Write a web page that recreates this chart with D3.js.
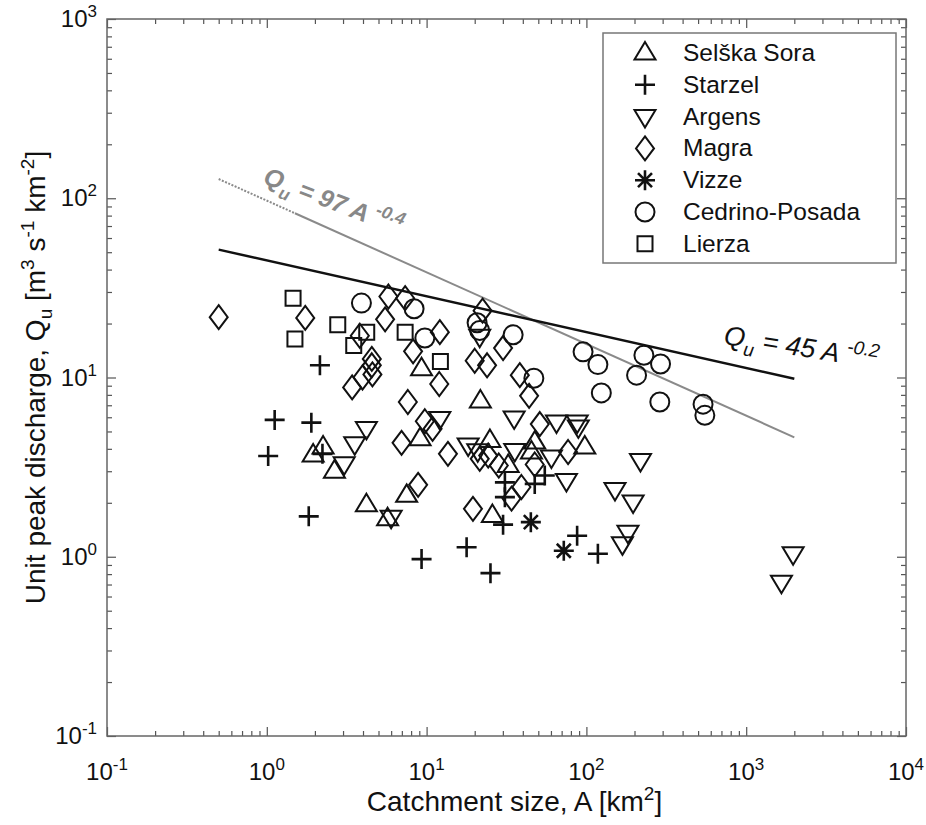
<!DOCTYPE html>
<html>
<meta charset="utf-8">
<head>
<title>Unit peak discharge vs catchment size</title>
<style>
  body { margin: 0; background: #fff; }
  text { font-family: "Liberation Sans", Arial, sans-serif; fill: #111; }
</style>
</head>
<body>
<div id="chart"></div>
<script src="https://d3js.org/d3.v7.min.js"></script>
<script>

// series names in legend order
var seriesNames = ["Selška Sora", "Starzel", "Argens", "Magra", "Vizze", "Cedrino-Posada", "Lierza"];

// [catchment size A (km2), unit peak discharge Qu (m3 s-1 km-2)]
var selskaSora = [[9.3,11.2],[21.7,7.4],[2.25,4.1],[1.95,3.7],[2.65,3.0],[4.2,1.95],[5.7,1.63],[7.5,2.2],
  [9.1,4.55],[24.9,4.45],[32.4,3.23],[47.5,4.36],[45.3,3.84],[97.7,4.1],[25.8,1.7]];
var starzel = [[2.15,11.7],[1.12,5.8],[1.9,5.6],[1.02,3.65],[2.23,3.75],[1.83,1.68],[9.3,0.97],[17.8,1.13],
  [25.1,0.81],[30.1,1.51],[30.9,2.6],[30.9,2.15],[47.5,2.55],[54.9,2.84],[87.5,1.31],[118,1.04]];
var argens = [[4.2,5.2],[3.55,4.27],[3.05,3.3],[6.0,1.66],[12.1,5.9],[21.5,17],[35.3,5.95],[65,5.65],
  [87.6,5.65],[89,5.3],[18.2,4.2],[20.9,3.9],[35.6,3.92],[60.4,3.6],[75,2.66],[218,3.44],[151,2.37],
  [196,2.02],[182,1.37],[168,1.18],[1966,1.04],[1662,0.72]];
var magra = [[0.5,21.7],[1.74,21.5],[5.77,28.3],[7.34,27.7],[5.5,21.1],[3.82,17.1],[8.23,14.0],[4.54,12.7],
  [4.54,11.7],[4.58,10.4],[3.97,10.0],[3.42,8.8],[7.63,7.3],[12.1,17.9],[12.0,9.2],[22.4,23.6],[30.1,14.6],
  [20.0,12.4],[23.9,11.7],[38.3,10.3],[43.8,7.9],[51.1,5.5],[10.9,5.17],[9.75,5.7],[6.97,4.32],[8.85,2.52],
  [13.6,3.75],[21.5,3.52],[24.3,3.67],[28.3,3.23],[47.5,3.27],[76.8,3.84],[39.2,2.45],[34.0,2.11],[19.5,1.85]];
var vizze = [[44.9,1.56],[72.2,1.08]];
var cedrinoPosada = [[3.91,26.0],[8.35,24.2],[9.75,16.6],[20.7,20.2],[21.5,18.3],[34.8,17.3],[46.9,9.9],
  [95.3,13.9],[118,11.8],[124,8.2],[206,10.3],[229,13.3],[291,11.9],[288,7.3],[537,7.1],[551,6.15]];
var lierza = [[1.46,27.7],[1.5,16.4],[2.78,19.7],[4.22,17.9],[3.5,15.1],[7.34,17.9],[12.2,12.3]];

var seriesData = [selskaSora, starzel, argens, magra, vizze, cedrinoPosada, lierza];
var seriesShapes = ["triUp", "plus", "triDown", "diamond", "star", "circle", "square"];

// envelope curves Qu = c * A^b
var curveCoef = [45, 97];
var curveExp = [-0.2, -0.4];
var curveRange = [0.5, 2000];
var dottedEnd = 1.5;

var xDecades = [-1, 0, 1, 2, 3, 4];
var yDecades = [-1, 0, 1, 2, 3];

var width = 926, height = 825;
var margin = {top: 19, right: 20, bottom: 89, left: 107};

var svg = d3.select("#chart").append("svg")
  .attr("width", width)
  .attr("height", height);

var x = d3.scaleLog().domain([0.1, 1e4]).range([margin.left, width - margin.right]);
var y = d3.scaleLog().domain([0.1, 1e3]).range([height - margin.bottom, margin.top]);

var x0 = x.range()[0], x1 = x.range()[1], y0 = y.range()[0], y1 = y.range()[1];

// minor + major tick values
function tickVals(scale) {
  var major = [], minor = [];
  var d = scale.domain();
  for (var e = Math.log10(d[0]); e <= Math.log10(d[1]); e++) {
    major.push(Math.pow(10, e));
    if (e < Math.log10(d[1]))
      for (var k = 2; k < 10; k++) minor.push(k * Math.pow(10, e));
  }
  return {major: major, minor: minor};
}
var xt = tickVals(x), yt = tickVals(y);

function drawAxis(axisFn, scale, vals, size, tr) {
  var g = svg.append("g").attr("transform", tr)
    .call(axisFn(scale).tickValues(vals).tickSize(size).tickFormat(""));
  g.select(".domain").remove();
  g.selectAll(".tick line").attr("stroke", "#555").attr("stroke-width", 1.2);
}
drawAxis(d3.axisBottom, x, xt.major, -9, "translate(0," + y0 + ")");
drawAxis(d3.axisBottom, x, xt.minor, -5, "translate(0," + y0 + ")");
drawAxis(d3.axisTop, x, xt.major, -9, "translate(0," + y1 + ")");
drawAxis(d3.axisTop, x, xt.minor, -5, "translate(0," + y1 + ")");
drawAxis(d3.axisLeft, y, yt.major, -9, "translate(" + x0 + ",0)");
drawAxis(d3.axisLeft, y, yt.minor, -5, "translate(" + x0 + ",0)");
drawAxis(d3.axisRight, y, yt.major, -9, "translate(" + x1 + ",0)");
drawAxis(d3.axisRight, y, yt.minor, -5, "translate(" + x1 + ",0)");

svg.append("rect")
  .attr("x", x0).attr("y", y1)
  .attr("width", x1 - x0).attr("height", y0 - y1)
  .attr("fill", "none").attr("stroke", "#666").attr("stroke-width", 1.5);

// tick labels 10^n
xDecades.forEach(function(e) {
  var t = svg.append("text")
    .attr("x", x(Math.pow(10, e))).attr("y", y0 + 44)
    .attr("text-anchor", "middle").style("font-size", "24px");
  t.append("tspan").text("10");
  t.append("tspan").attr("dy", -10).style("font-size", "17px").text(e);
});
yDecades.forEach(function(e) {
  var t = svg.append("text")
    .attr("x", x0 - 10).attr("y", y(Math.pow(10, e)) + 8)
    .attr("text-anchor", "end").style("font-size", "24px");
  t.append("tspan").text("10");
  t.append("tspan").attr("dy", -10).style("font-size", "17px").text(e);
});

// axis titles
var xl = svg.append("text")
  .attr("x", (x0 + x1) / 2 + 8).attr("y", 811)
  .attr("text-anchor", "middle").style("font-size", "28px");
xl.append("tspan").text("Catchment size, A [km");
xl.append("tspan").attr("dy", -11).style("font-size", "19px").text("2");
xl.append("tspan").attr("dy", 11).text("]");

var yl = svg.append("text")
  .attr("transform", "translate(45," + ((y0 + y1) / 2) + ") rotate(-90)")
  .attr("text-anchor", "middle").style("font-size", "28px");
yl.append("tspan").text("Unit peak discharge, Q");
yl.append("tspan").attr("dy", 7).style("font-size", "19px").text("u");
yl.append("tspan").attr("dy", -7).text(" [m");
yl.append("tspan").attr("dy", -11).style("font-size", "19px").text("3");
yl.append("tspan").attr("dy", 11).text(" s");
yl.append("tspan").attr("dy", -11).style("font-size", "19px").text("-1");
yl.append("tspan").attr("dy", 11).text(" km");
yl.append("tspan").attr("dy", -11).style("font-size", "19px").text("-2");
yl.append("tspan").attr("dy", 11).text("]");

// envelope lines
var line = d3.line().x(function(d) { return x(d[0]); }).y(function(d) { return y(d[1]); });
function curve(c, b, a0, a1) {
  return [[a0, c * Math.pow(a0, b)], [a1, c * Math.pow(a1, b)]];
}
svg.append("path")
  .attr("d", line(curve(curveCoef[1], curveExp[1], curveRange[0], dottedEnd)))
  .attr("stroke", "#8a8a8a").attr("stroke-width", 2).attr("stroke-dasharray", "2,1.5").attr("fill", "none");
svg.append("path")
  .attr("d", line(curve(curveCoef[1], curveExp[1], dottedEnd, curveRange[1])))
  .attr("stroke", "#8a8a8a").attr("stroke-width", 2).attr("fill", "none");
svg.append("path")
  .attr("d", line(curve(curveCoef[0], curveExp[0], curveRange[0], curveRange[1])))
  .attr("stroke", "#111").attr("stroke-width", 2.5).attr("fill", "none");

// equation labels
function eqLabel(px, py, ang, c, b, col, bold, fs) {
  var t = svg.append("text")
    .attr("transform", "translate(" + px + "," + py + ") rotate(" + ang + ")")
    .style("font-size", fs + "px").style("font-style", "italic")
    .style("font-weight", bold ? "bold" : "normal").style("fill", col);
  t.append("tspan").text("Q");
  t.append("tspan").attr("dy", 8).style("font-size", (fs * 0.7) + "px").text("u");
  t.append("tspan").attr("dy", -8).text(" = " + c + " A ");
  t.append("tspan").attr("dy", -11).style("font-size", (fs * 0.7) + "px").text(b);
}
eqLabel(262, 183, 21, curveCoef[1], curveExp[1], "#888", true, 25);
eqLabel(723, 344, 9, curveCoef[0], curveExp[0], "#111", false, 27);

// marker shapes
function shapePath(s) {
  switch (s) {
    case "triUp": return "M0,-11L10.5,6.5L-10.5,6.5Z";
    case "triDown": return "M0,11L10.5,-6.5L-10.5,-6.5Z";
    case "diamond": return "M0,-12L9,0L0,12L-9,0Z";
    case "square": return "M-7.5,-7.5H7.5V7.5H-7.5Z";
    case "plus": return "M-10,0H10M0,-10V10";
    case "star": return "M-10,0H10M0,-10V10M-7,-7L7,7M-7,7L7,-7";
    case "circle": return "M9.5,0A9.5,9.5 0 1,1 -9.5,0A9.5,9.5 0 1,1 9.5,0Z";
  }
}
function drawMarker(g, s) {
  g.append("path")
    .attr("d", shapePath(s))
    .attr("fill", "none")
    .attr("stroke", "#111")
    .attr("stroke-width", (s === "plus" || s === "star") ? 2.6 : 2);
}

seriesData.forEach(function(data, i) {
  svg.append("g").selectAll("g")
    .data(data).enter().append("g")
    .attr("transform", function(d) { return "translate(" + x(d[0]) + "," + y(d[1]) + ")"; })
    .each(function() { drawMarker(d3.select(this), seriesShapes[i]); });
});

// legend
var legend = svg.append("g");
legend.append("rect")
  .attr("x", 603).attr("y", 33).attr("width", 293).attr("height", 230)
  .attr("fill", "#fff").attr("stroke", "#777").attr("stroke-width", 1.5);
seriesNames.forEach(function(name, i) {
  var ly = 53 + i * 31.8;
  var g = legend.append("g").attr("transform", "translate(645," + ly + ")");
  drawMarker(g, seriesShapes[i]);
  legend.append("text")
    .attr("x", 683).attr("y", ly + 8)
    .style("font-size", "24.5px").text(name);
});

</script>
</body>
</html>
